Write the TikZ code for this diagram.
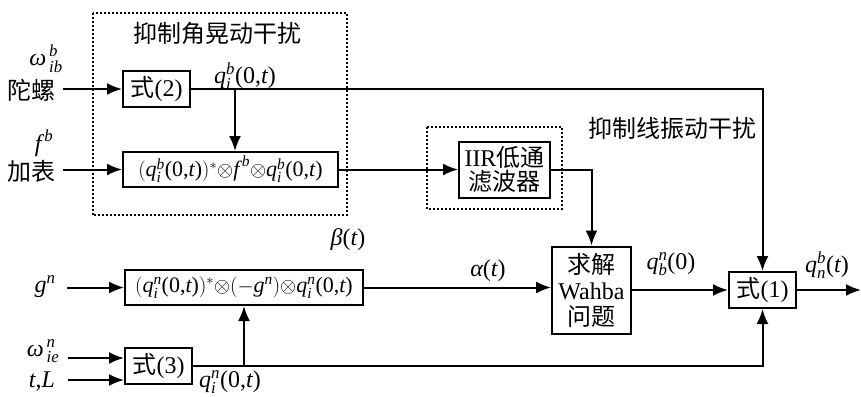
\documentclass[tikz,border=0pt]{standalone}
\usepackage{amsmath}
\usepackage{fontspec}
\setmainfont{Liberation Serif}
\newfontfamily\cjk{Noto Sans CJK SC}
\usetikzlibrary{arrows.meta,calc}
\newcommand\mi[1]{\text{\itshape #1}}
\newcommand\tx[1]{\text{#1}}
\newcommand\vq[2]{\mi{q}^{\mi{#1}}_{\mi{#2}}}
\newcommand\zt{\tx{(0,}\mi{t}\tx{)}}
\newcommand\ot{\mathord{\otimes}}
\begin{document}
\begin{tikzpicture}[x=1pt,y=-1pt,font=\fontsize{24}{28}\selectfont,
  blk/.style={draw,line width=2pt,inner sep=0pt,align=center},
  fml/.style={blk,font=\fontsize{22}{26}\selectfont},
  lbl/.style={inner sep=0pt},
  arr/.style={line width=2pt,-{Latex[length=15pt,width=12pt]}},
  frame/.style={line width=2pt,dotted}]
\useasboundingbox (0,0) rectangle (861,396);
% frames
\draw[frame] (92.7,12.7) rectangle (347,215);
\draw[frame] (427,127) rectangle (562,209);
% blocks
\node[blk,minimum width=67pt,minimum height=36pt] (s2) at (156.5,89) {{\cjk 式}(2)};
\node[fml,minimum width=215pt,minimum height=35pt] (f1) at (230.5,169.5)
  {$(\vq{b}{i}\zt)^{*}\ot\mi{f}^{\,\mi{b}}\ot\vq{b}{i}\zt$};
\node[blk,minimum width=91pt,minimum height=56pt] (iir) at (504.5,169.5)
  {IIR{\cjk 低通}\\[-4pt]{\cjk 滤波器}};
\node[blk,minimum width=79pt,minimum height=87pt] (wah) at (591.5,290)
  {{\cjk 求解}\\[-2pt]Wahba\\[-2pt]{\cjk 问题}};
\node[blk,minimum width=67pt,minimum height=36pt] (s1) at (762.5,290) {{\cjk 式}(1)};
\node[fml,minimum width=238pt,minimum height=35pt] (f2) at (244,287.5)
  {$(\vq{n}{i}\zt)^{*}\ot(-\mi{g}^{\mi{n}})\ot\vq{n}{i}\zt$};
\node[blk,minimum width=67pt,minimum height=36pt] (s3) at (158.5,366) {{\cjk 式}(3)};
% labels
\node[lbl] (t1) at (217,33) {\cjk 抑制角晃动干扰};
\node[lbl] (t2) at (672,128) {\cjk 抑制线振动干扰};
\node[lbl] (wib) at (46,59) {$\mi{ω}^{\,\mi{b}}_{\,\mi{ib}}$};
\node[lbl] (gyro) at (32,90) {\cjk 陀螺};
\node[lbl] (fb) at (44,143) {$\mi{f}^{\,\mi{b}}$};
\node[lbl] (acc) at (32,171) {\cjk 加表};
\node[lbl] (qib) at (245,76) {$\vq{b}{i}\zt$};
\node[lbl] (beta) at (348,240) {$\mi{β}\tx{(}\mi{t}\tx{)}$};
\node[lbl] (alpha) at (488,271) {$\mi{α}\tx{(}\mi{t}\tx{)}$};
\node[lbl] (gn) at (45,287) {$\mi{g}^{\mi{n}}$};
\node[lbl] (wie) at (43,351) {$\mi{ω}^{\,\mi{n}}_{\,\mi{ie}}$};
\node[lbl] (tL) at (42,381) {$\mi{t}\tx{,}\mi{L}$};
\node[lbl] (qin) at (230,382) {$\vq{n}{i}\zt$};
\node[lbl] (qbn) at (671,264) {$\vq{n}{b}\tx{(0)}$};
\node[lbl] (qnb) at (827,265) {$\vq{b}{n}\tx{(}\mi{t}\tx{)}$};
% connectors
\coordinate (gin) at (63,89);
\coordinate (ain) at (63,169.5);
\coordinate (br1) at (235,89);
\coordinate (out) at (861,290);
\coordinate (gnin) at (67,287.5);
\coordinate (win) at (68,358);
\coordinate (tin) at (68,380);
\coordinate (br2) at (244,366);
\draw[arr] (gin) -- (s2.west);
\draw[arr] (ain) -- (f1.west);
\draw[arr] (s2.east) -| (s1.north);
\draw[arr] (br1) -- (br1 |- f1.north);
\draw[arr] (f1.east) -- (iir.west);
\draw[arr] (iir.east) -| (wah.north);
\draw[arr] (f2.east) -- (f2.east -| wah.west);
\draw[arr] (wah.east) -- (s1.west);
\draw[arr] (s1.east) -- (out);
\draw[arr] (gnin) -- (f2.west);
\draw[arr] (win) -- (win -| s3.west);
\draw[arr] (tin) -- (tin -| s3.west);
\draw[arr] (s3.east) -| (s1.south);
\draw[arr] (br2) -- (br2 |- f2.south);
\end{tikzpicture}
\end{document}
